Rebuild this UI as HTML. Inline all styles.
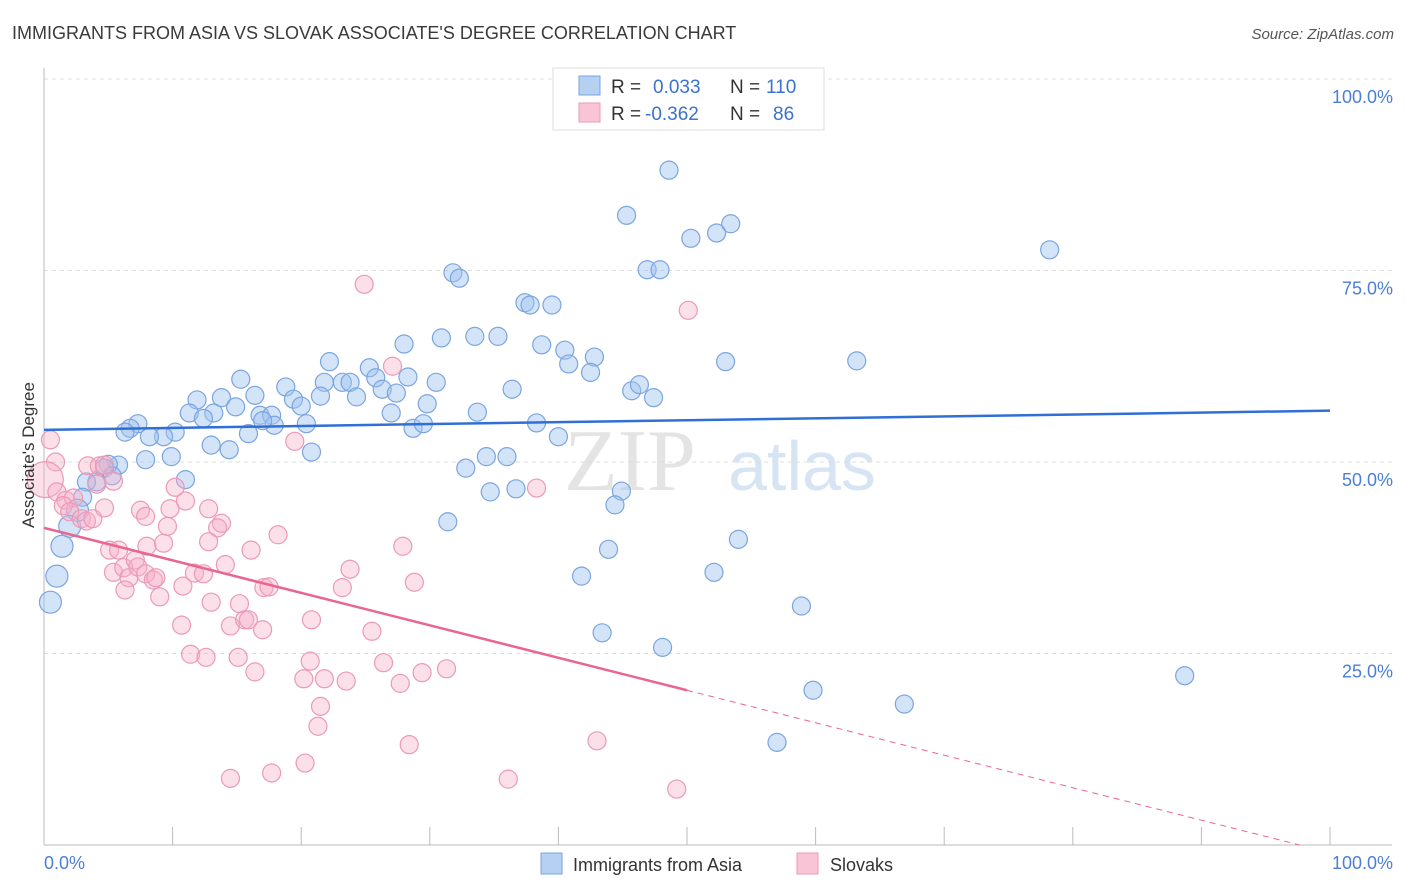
<!DOCTYPE html>
<html><head><meta charset="utf-8"><style>
body{margin:0;background:#fff;font-family:"Liberation Sans",sans-serif;}
svg{display:block}
</style></head><body>
<svg id="chart" width="1406" height="892" viewBox="0 0 1406 892">
<text x="12" y="39" font-size="18" fill="#3a3a3a">IMMIGRANTS FROM ASIA VS SLOVAK ASSOCIATE'S DEGREE CORRELATION CHART</text>
<text x="1394" y="39" font-size="15" fill="#555" font-style="italic" text-anchor="end">Source: ZipAtlas.com</text>
<g>
<text x="630" y="490" font-size="88" font-family="Liberation Serif,serif" fill="#e4e4e4" text-anchor="middle">ZIP</text>
<text x="802" y="490" font-size="70" fill="#d6e4f4" text-anchor="middle">atlas</text>
</g>
<g id="grid"></g>
<g id="axes"></g>
<g id="points"></g>
<g id="trends"></g>
<text transform="translate(34,455) rotate(-90)" font-size="17" fill="#333" text-anchor="middle">Associate's Degree</text>
<text x="44" y="869" font-size="18" fill="#4a7fd4">0.0%</text>
<text x="1393" y="869" font-size="18" fill="#4a7fd4" text-anchor="end">100.0%</text>
<g>
<rect x="553" y="68" width="271" height="62" fill="#fff" stroke="#ddd"/>
<rect x="579" y="76" width="21" height="19" fill="#b6d0f2" stroke="#7aa5e0"/>
<rect x="579" y="103" width="21" height="19" fill="#f8c4d6" stroke="#eb9ab6"/>
<text x="611" y="93" font-size="19" fill="#333">R =</text>
<text x="653" y="93" font-size="19" fill="#3a72cf">0.033</text>
<text x="730" y="93" font-size="19" fill="#333">N =</text>
<text x="766" y="93" font-size="19" fill="#3a72cf">110</text>
<text x="611" y="120" font-size="19" fill="#333">R =</text>
<text x="645" y="120" font-size="19" fill="#3a72cf">-0.362</text>
<text x="730" y="120" font-size="19" fill="#333">N =</text>
<text x="773" y="120" font-size="19" fill="#3a72cf">86</text>
</g>
<g>
<rect x="541" y="853" width="21" height="21" fill="#b6d0f2" stroke="#7aa5e0"/>
<text x="573" y="871" font-size="18" fill="#333">Immigrants from Asia</text>
<rect x="797" y="853" width="21" height="21" fill="#f8c4d6" stroke="#eb9ab6"/>
<text x="830" y="871" font-size="18" fill="#333">Slovaks</text>
</g>
</svg>
<script>
const blueX=[48.6,45.3,50.3,52.3,53.4,78.2,31.8,32.3,46.9,47.9,37.4,37.8,39.5,33.5,35.3,30.9,38.7,40.5,42.8,40.8,42.5,28.0,22.2,25.3,23.2,23.8,25.8,28.3,30.5,21.8,24.3,26.3,27.4,29.8,27.0,15.3,16.4,18.8,13.8,11.9,14.9,19.4,20.0,21.5,11.3,13.2,12.4,16.8,17.7,17.9,17.0,20.4,28.7,29.5,33.7,36.4,38.3,40.0,45.7,46.3,47.4,53.0,63.2,13.0,14.4,20.8,15.9,10.2,9.3,8.2,7.3,6.7,6.3,9.9,7.9,5.8,5.0,4.7,5.3,4.1,3.3,11.0,3.0,2.6,2.0,1.4,1.0,0.5,32.8,34.4,36.0,34.7,36.7,31.4,44.9,44.4,43.9,41.8,43.4,48.1,52.1,54.0,58.9,59.8,66.9,57.0,88.7];
const blueY=[88.1,82.2,79.2,79.9,81.1,77.7,74.7,74.0,75.1,75.1,70.8,70.5,70.5,66.4,66.4,66.2,65.3,64.6,63.7,62.8,61.7,65.4,63.1,62.3,60.4,60.4,61.0,61.1,60.4,60.4,58.5,59.5,59.0,57.6,56.4,60.8,58.7,59.8,58.4,58.1,57.2,58.2,57.3,58.6,56.4,56.4,55.7,56.1,56.1,54.8,55.4,55.0,54.4,55.0,56.5,59.5,55.1,53.3,59.3,60.1,58.4,63.1,63.2,52.2,51.6,51.3,53.7,53.9,53.3,53.3,55.0,54.4,53.9,50.7,50.3,49.6,49.7,49.2,48.2,47.4,47.4,47.7,45.4,43.7,41.6,39.0,35.1,31.7,49.2,50.7,50.7,46.1,46.5,42.2,46.2,44.4,38.6,35.1,27.7,25.8,35.6,39.9,31.2,20.2,18.4,13.4,22.1];
const pinkX=[24.9,50.1,27.1,0.5,0.9,0.1,1.0,1.7,2.3,1.5,2.0,3.4,4.3,4.7,5.4,4.1,2.9,3.3,3.8,4.7,5.1,5.8,5.4,6.2,6.6,7.1,7.3,6.3,7.9,8.5,8.7,9.0,8.0,9.3,7.5,7.9,10.2,11.0,9.8,9.6,12.8,13.8,13.5,12.8,10.8,11.7,12.4,13.0,14.1,16.1,18.2,15.2,14.5,15.6,15.9,17.0,17.1,17.5,10.7,11.4,12.6,15.1,16.4,19.5,20.8,20.7,20.2,21.8,21.5,21.3,23.5,23.8,23.2,25.5,26.4,27.7,27.9,28.8,29.4,31.3,28.4,14.5,17.7,20.3,36.1,38.3,43.0,49.2];
const pinkY=[73.2,69.8,62.5,52.9,50.0,47.7,46.1,45.0,45.3,44.3,43.5,49.5,49.5,49.6,47.5,47.1,42.6,42.3,42.6,44.0,38.5,38.5,35.6,36.2,34.9,37.2,36.3,33.3,35.4,34.6,34.9,32.4,39.0,39.4,43.7,42.9,46.7,44.9,43.9,41.6,43.9,42.0,41.4,39.6,33.8,35.5,35.4,31.7,36.6,38.5,40.5,31.5,28.6,29.4,29.4,28.1,33.6,33.7,28.7,24.9,24.5,24.5,22.6,52.7,29.4,24.0,21.7,21.7,18.1,15.5,21.4,36.0,33.6,27.9,23.8,21.1,39.0,34.3,22.5,23.0,13.1,8.7,9.4,10.7,8.6,46.6,13.6,7.3];
const blueTrend=[54.2,56.7];
const pinkTrend=[41.4,20.2];
const pinkTrendEndX=50;
const yTicks=[100,75,50,25];
const yTickLabels=["100.0%","75.0%","50.0%","25.0%"];
const xTicks=[0,10,20,30,40,50,60,70,80,90,100];

const X0=44,X1=1330,Y0=845,Y100=79;
function sx(v){return X0+(X1-X0)*v/100;}
function sy(v){return Y0-(Y0-Y100)*v/100;}
const NS="http://www.w3.org/2000/svg";
function mk(tag,attrs,parent){const e=document.createElementNS(NS,tag);for(const k in attrs)e.setAttribute(k,attrs[k]);parent.appendChild(e);return e;}
const grid=document.getElementById('grid'),axes=document.getElementById('axes'),pts=document.getElementById('points'),tr=document.getElementById('trends');

yTicks.forEach((t,i)=>{
 const l=mk('line',{x1:X0,x2:1392,y1:sy(t),y2:sy(t),stroke:'#ddd','stroke-dasharray':'4,4'},grid);
 
 
 const tx=mk('text',{x:1393,y:sy(t)+24,'font-size':18,fill:'#4a7fd4','text-anchor':'end'},grid);
 tx.textContent=yTickLabels[i];
 
 
});
const ya=mk('line',{x1:X0,x2:X0,y1:68,y2:Y0,stroke:'#bbb'},axes);


const xa=mk('line',{x1:X0,x2:1392,y1:Y0,y2:Y0,stroke:'#bbb'},axes);


xTicks.forEach(t=>{
 const l=mk('line',{x1:sx(t),x2:sx(t),y1:Y0-18,y2:Y0,stroke:'#bbb'},axes);
 
 
});
blueX.forEach((x,i)=>{
 const r=x<3?11:9;
 const c=mk('circle',{cx:sx(x),cy:sy(blueY[i]),r:r,fill:'rgba(160,195,240,0.45)',stroke:'#7aa5e0','stroke-width':1.2},pts);
 
 
});
pinkX.forEach((x,i)=>{
 const r=(x<0.2)?18:9;
 const c=mk('circle',{cx:sx(x),cy:sy(pinkY[i]),r:r,fill:'rgba(246,175,200,0.4)',stroke:'#eb9ab6','stroke-width':1.2},pts);
 
 
});
const bt=mk('line',{x1:sx(0),y1:sy(blueTrend[0]),x2:sx(100),y2:sy(blueTrend[1]),stroke:'#2f6fd6','stroke-width':2.5},tr);


const slope=(pinkTrend[1]-pinkTrend[0])/pinkTrendEndX;
const zeroX=-pinkTrend[0]/slope;
const pt=mk('line',{x1:sx(0),y1:sy(pinkTrend[0]),x2:sx(pinkTrendEndX),y2:sy(pinkTrend[1]),stroke:'#e8668f','stroke-width':2.5},tr);


const pd=mk('line',{x1:sx(pinkTrendEndX),y1:sy(pinkTrend[1]),x2:sx(zeroX),y2:sy(0),stroke:'#e8668f','stroke-width':1,'stroke-dasharray':'6,5'},tr);


</script>
</body></html>
